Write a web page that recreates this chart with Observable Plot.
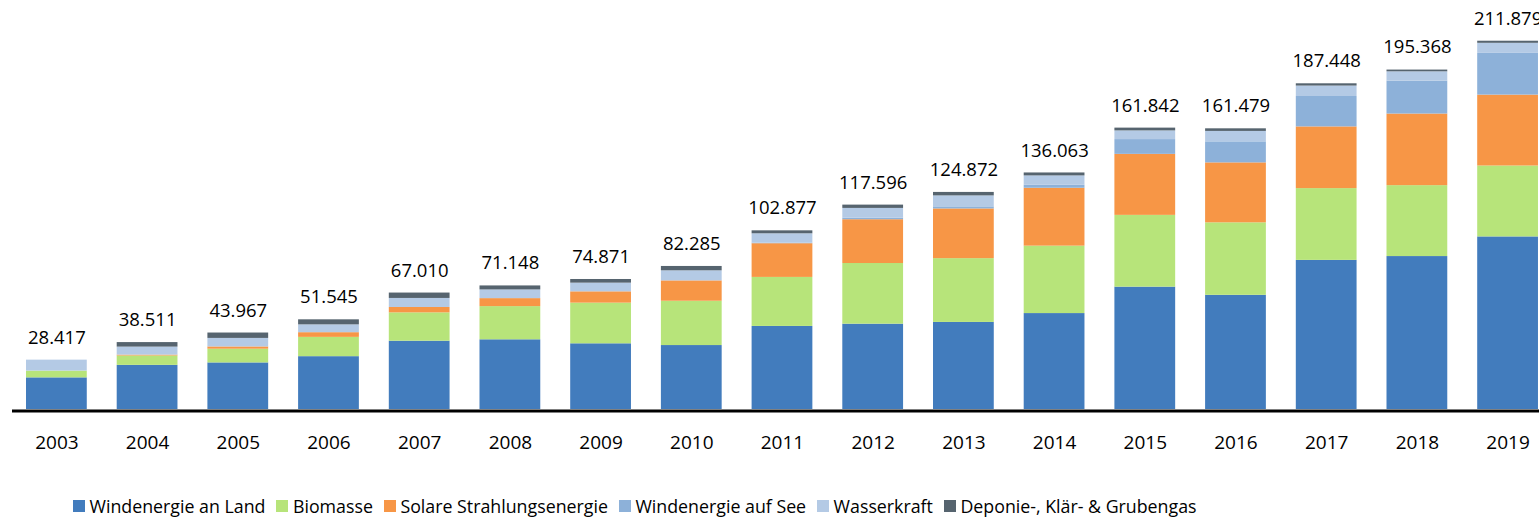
<!DOCTYPE html>
<html>
<head>
<meta charset="utf-8">
<script src="https://cdn.jsdelivr.net/npm/d3@7"></script>
<script src="https://cdn.jsdelivr.net/npm/@observablehq/plot@0.6"></script>
<style>
html, body { margin: 0; padding: 0; background: #fff; overflow: hidden; }
body { position: relative; width: 1539px; height: 517px; }
#chart svg { display: block; }
#legend { position: absolute; top: 495px; left: 73px; height: 22px; display: flex; align-items: center;
  font-family: "Open Sans", sans-serif; font-size: 17.8px; color: #000; white-space: nowrap; }
#legend .item { display: flex; align-items: center; margin-right: 11px; }
#legend .sw { width: 12px; height: 12px; margin-right: 4.5px; display: inline-block; }
</style>
</head>
<body>
<div id="chart"></div>
<div id="legend"></div>
<script>
const years = ["2003","2004","2005","2006","2007","2008","2009","2010","2011","2012","2013","2014","2015","2016","2017","2018","2019"];
const totals = [28.417, 38.511, 43.967, 51.545, 67.010, 71.148, 74.871, 82.285, 102.877, 117.596, 124.872, 136.063, 161.842, 161.479, 187.448, 195.368, 211.879];
const categories = ["Windenergie an Land", "Biomasse", "Solare Strahlungsenergie", "Windenergie auf See", "Wasserkraft", "Deponie-, Klär- & Grubengas"];
const colors = ["#427CBD", "#B7E47A", "#F79646", "#8DB1D9", "#B4CAE5", "#56646F"];

const windLand  = [18.2, 25.4, 26.8, 30.4, 39.3, 40.1, 37.8, 36.8, 47.8, 49.1, 50.1, 55.2, 70.4, 65.7, 85.8, 88.0, 99.3];
const biomasse  = [3.9, 5.4, 7.9, 11.1, 16.3, 19.1, 23.4, 25.5, 28.2, 34.9, 36.7, 38.8, 41.3, 41.7, 41.3, 40.8, 40.8];
const solar     = [0, 0.5, 1.3, 2.7, 3.1, 4.6, 6.5, 11.7, 19.4, 25.2, 28.6, 33.3, 35.1, 34.5, 35.5, 41.2, 40.8];
const windSee   = [0, 0, 0, 0, 0, 0, 0, 0, 0.3, 0.9, 1.2, 1.7, 8.5, 12.1, 17.5, 18.9, 24.0];
const wasser    = [6.3, 4.6, 4.9, 4.5, 5.2, 5.0, 5.0, 5.8, 5.4, 5.6, 6.3, 5.4, 5.0, 6.0, 6.0, 5.4, 5.8];
const deponie   = [0, 2.6, 3.1, 2.9, 3.1, 2.3, 2.1, 2.5, 1.7, 1.9, 2.0, 1.7, 1.6, 1.5, 1.3, 1.0, 1.2];

const seriesList = [windLand, biomasse, solar, windSee, wasser, deponie];
const data = [];
years.forEach((y, i) => {
  seriesList.forEach((s, j) => data.push({year: y, cat: categories[j], value: s[i]}));
});
const labels = years.map((y, i) => ({year: y, total: totals[i], text: totals[i].toFixed(3)}));

const k = 1.738;
const plot = Plot.plot({
  width: 1539,
  height: 470,
  marginLeft: 12,
  marginRight: 0,
  marginTop: 0,
  marginBottom: 61,
  style: {fontFamily: "'Open Sans', sans-serif", color: "#000", background: "#fff", overflow: "visible"},
  x: {domain: years, range: [7.86, 7.86 + 90.7 * 17.07], paddingInner: 0.33, paddingOuter: 0.2, round: false, label: null},
  y: {domain: [0, 220], range: [409, 409 - 220 * k], axis: null},
  color: {domain: categories, range: colors},
  marks: [
    Plot.barY(data, {x: "year", y: "value", fill: "cat"}),
    Plot.ruleY([0], {stroke: "#000", strokeWidth: 3, dy: 1.5}),
    Plot.text(labels, {x: "year", y: "total", text: "text", dy: -16.5, lineAnchor: "bottom", fontSize: 18.5, fill: "#000"}),
    Plot.axisX({tickSize: 0, tickPadding: 25.5, fontSize: 19, label: null, color: "#000"})
  ]
});
document.getElementById("chart").appendChild(plot);

const legend = document.getElementById("legend");
categories.forEach((c, i) => {
  const item = document.createElement("span");
  item.className = "item";
  const sw = document.createElement("span");
  sw.className = "sw";
  sw.style.background = colors[i];
  item.appendChild(sw);
  item.appendChild(document.createTextNode(c));
  legend.appendChild(item);
});
</script>
</body>
</html>
